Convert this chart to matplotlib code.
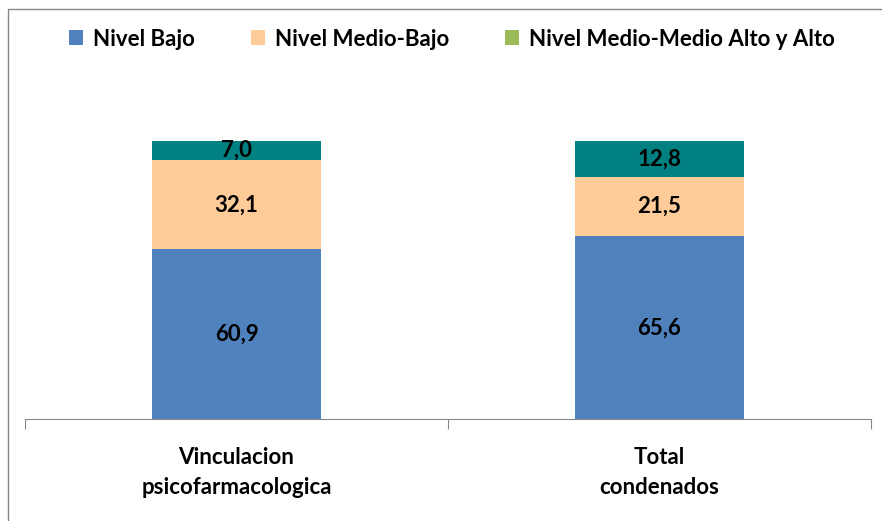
import numpy as np
import matplotlib.pyplot as plt
from matplotlib.patches import Rectangle

categories = ["Vinculacion\npsicofarmacologica", "Total\ncondenados"]
series_names = ["Nivel Bajo", "Nivel Medio-Bajo", "Nivel Medio-Medio Alto y Alto"]
bajo = [60.9, 65.6]
medio_bajo = [32.1, 21.5]
alto = [7.0, 12.8]

bar_colors = ["#4F81BD", "#FFCC99", "#008080"]
legend_colors = ["#4F81BD", "#FFCC99", "#9BBB59"]

plt.rcParams['font.family'] = ['Lato', 'DejaVu Sans']

W, H = 882, 521
fig = plt.figure(figsize=(W / 100, H / 100), dpi=100)
ax = fig.add_axes([25 / W, 1 - 419 / H, (871 - 25) / W, (419 - 85) / H])

x = np.arange(len(categories))
bottom = np.zeros(len(categories))
for name, vals, col in zip(series_names, [bajo, medio_bajo, alto], bar_colors):
    bc = ax.bar(x, vals, width=0.4, bottom=bottom, color=col, label=name)
    ax.bar_label(bc, labels=[f"{v:.1f}".replace(".", ",") for v in vals],
                 label_type='center', fontsize=16, fontweight='bold')
    bottom += np.array(vals)

ax.set_xlim(-0.5, 1.5)
ax.set_ylim(0, 120)
ax.set_yticks([])
for s in ["top", "right", "left"]:
    ax.spines[s].set_visible(False)
ax.spines["bottom"].set_color("#868686")
ax.set_xticks([-0.5, 0.5, 1.5])
ax.set_xticklabels([])
ax.tick_params(axis='x', length=7, color="#868686")
ax.set_xticks(x, minor=True)
ax.set_xticklabels(categories, minor=True, fontsize=16, fontweight='bold', linespacing=1.55)
ax.tick_params(axis='x', which='minor', length=0, pad=20)

leg = fig.legend(loc='center', bbox_to_anchor=(452 / W, 1 - 39 / H), ncol=3, frameon=False,
                 prop={'weight': 'bold', 'size': 16},
                 handlelength=0.63, handleheight=0.63, handletextpad=0.45, columnspacing=2.5)
for h, c in zip(leg.legend_handles, legend_colors):
    h.set_facecolor(c)

fig.patches.append(Rectangle((8 / W, -0.1), 1.2, 1 - 9 / H + 0.1, transform=fig.transFigure,
                             fill=False, edgecolor="#868686", lw=1))

fig.savefig("out.png", dpi=100)
